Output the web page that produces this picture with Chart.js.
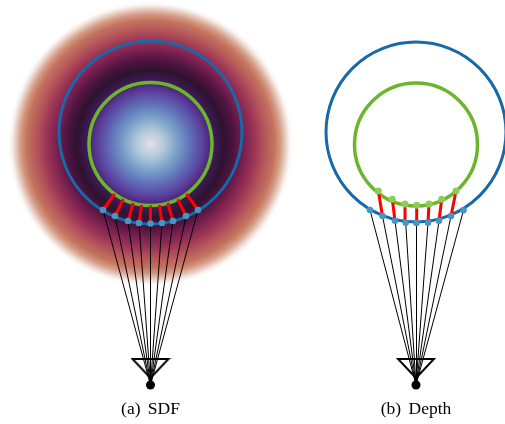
<!DOCTYPE html>
<html>
<head>
<meta charset="utf-8">
<script src="https://cdn.jsdelivr.net/npm/chart.js@4.4.1/dist/chart.umd.min.js"></script>
<style>
  html, body { margin: 0; padding: 0; background: #fff; }
  canvas { display: block; }
</style>
</head>
<body>
<canvas id="fig" width="505" height="424"></canvas>
<script>
// scene (x to the right, y downwards)
var panelNames = ['(a) SDF', '(b) Depth'];
var panelCentres = [150.5, 416];
var captionLine = 414;

var sdfField = [{x: 150.5, y: 144, r: 143}];
var outerSurface = [{x: 150.5, y: 132.5, r: 91.5}, {x: 416, y: 132, r: 90}];
var innerSurface = [{x: 150.5, y: 144, r: 61.5}, {x: 416, y: 144.5, r: 61.5}];
var cameras = [{x: 150.5, y: 385}, {x: 416, y: 385}];

// (a) samples on the outer surface and their closest points on the inner one
var sdfSamples = [
    {x: 103, y: 210}, {x: 115, y: 216}, {x: 128, y: 221}, {x: 139, y: 223}, {x: 150.5, y: 223.5},
    {x: 162, y: 223}, {x: 173, y: 221}, {x: 186, y: 216}, {x: 198, y: 210}
];
var sdfClosest = [
    {x: 114.6, y: 193.9}, {x: 123.3, y: 199.2}, {x: 133.3, y: 203}, {x: 141.6, y: 204.9}, {x: 150.5, y: 205.5},
    {x: 159.4, y: 204.9}, {x: 167.7, y: 203}, {x: 177.7, y: 199.2}, {x: 186.4, y: 193.9}
];

// (b) samples on the outer surface and where the same rays hit the inner one
var depthSamples = [
    {x: 370, y: 210}, {x: 382.5, y: 216}, {x: 395, y: 220.7}, {x: 405.7, y: 222.7}, {x: 416.5, y: 223},
    {x: 428, y: 222.7}, {x: 439, y: 220.7}, {x: 451, y: 216}, {x: 463.5, y: 210.3}
];
var depthHitRays = [1, 2, 3, 4, 5, 6, 7];
var depthHits = [
    {x: 378.3, y: 191}, {x: 392.3, y: 199.3}, {x: 405, y: 204}, {x: 416.7, y: 205.3},
    {x: 429, y: 204}, {x: 441.7, y: 199.3}, {x: 456, y: 191}
];

// twilight-like colour ramp for the distance field
var fieldStops = [
    [0, '#e6e0e8'], [0.098, '#b0c8d8'], [0.189, '#7aa0c8'], [0.28, '#6070b8'],
    [0.378, '#5a3a9a'], [0.448, '#3c1b55'], [0.517, '#2e1230'], [0.587, '#4e1440'],
    [0.657, '#7a2050'], [0.727, '#9a3456'], [0.797, '#b4545a'], [0.867, '#c4745e'],
    [0.909, '#d49a84'], [0.958, '#f0e0d8'], [1, 'rgba(255,255,255,0)']
];

function fieldFill(c) {
    var chart = c.chart;
    if (!chart.chartArea || !c.raw) return 'rgba(0,0,0,0)';
    var px = chart.scales.x.getPixelForValue(c.raw.x);
    var py = chart.scales.y.getPixelForValue(c.raw.y);
    var g = chart.ctx.createRadialGradient(px, py, 0, px, py, c.raw.r);
    fieldStops.forEach(function (s) { g.addColorStop(s[0], s[1]); });
    return g;
}

// camera glyph: open triangle above the centre point
var camIcon = document.createElement('canvas');
camIcon.width = 40;
camIcon.height = 60;
(function () {
    var g = camIcon.getContext('2d');
    g.strokeStyle = '#000';
    g.lineWidth = 2;
    g.beginPath();
    g.moveTo(2, 4);
    g.lineTo(38, 4);
    g.lineTo(20, 23);
    g.closePath();
    g.stroke();
})();

function segment(a, b, color, width, order) {
    return {
        type: 'scatter', showLine: true, data: [a, b],
        borderColor: color, borderWidth: width, borderCapStyle: 'butt',
        pointRadius: 0, order: order, clip: false
    };
}

var datasets = [];
datasets.push({type: 'bubble', data: sdfField, backgroundColor: fieldFill, borderWidth: 0, order: 20, clip: false});

sdfSamples.forEach(function (p) { datasets.push(segment(cameras[0], p, '#000', 1, 10)); });
depthSamples.forEach(function (p) { datasets.push(segment(cameras[1], p, '#000', 1, 10)); });

datasets.push({type: 'bubble', data: outerSurface, backgroundColor: 'rgba(0,0,0,0)',
    borderColor: '#1769aa', borderWidth: 3, order: 8, clip: false});
datasets.push({type: 'bubble', data: innerSurface, backgroundColor: 'rgba(0,0,0,0)',
    borderColor: '#6cb52d', borderWidth: 3.5, order: 7, clip: false});

sdfSamples.forEach(function (p, i) { datasets.push(segment(p, sdfClosest[i], '#ff0000', 3, 5)); });
depthHitRays.forEach(function (k, i) { datasets.push(segment(depthSamples[k], depthHits[i], '#ff0000', 3, 5)); });

datasets.push({type: 'scatter', data: sdfSamples.concat(depthSamples), pointRadius: 3.3,
    backgroundColor: '#4b93c3', borderWidth: 0, order: 3, clip: false});
datasets.push({type: 'scatter', data: depthHits, pointRadius: 3.5,
    backgroundColor: '#8ccd5a', borderWidth: 0, order: 3, clip: false});

datasets.push({type: 'scatter', data: cameras, pointStyle: camIcon, pointRadius: 10, order: 2, clip: false});
datasets.push({type: 'scatter', data: cameras, pointRadius: 4.5,
    backgroundColor: '#000', borderWidth: 0, order: 1, clip: false});

var captions = {
    id: 'captions',
    afterDraw: function (chart) {
        var ctx = chart.ctx, xs = chart.scales.x, ys = chart.scales.y;
        ctx.save();
        ctx.font = '17.5px "Liberation Serif", "Times New Roman", serif';
        ctx.fillStyle = '#000';
        ctx.textAlign = 'center';
        ctx.textBaseline = 'alphabetic';
        if ('wordSpacing' in ctx) ctx.wordSpacing = '3px';
        panelNames.forEach(function (name, i) {
            ctx.fillText(name, xs.getPixelForValue(panelCentres[i]), ys.getPixelForValue(captionLine));
        });
        ctx.restore();
    }
};

new Chart(document.getElementById('fig').getContext('2d'), {
    type: 'scatter',
    data: {datasets: datasets},
    options: {
        responsive: false,
        animation: false,
        events: [],
        layout: {padding: 0, autoPadding: false},
        plugins: {legend: {display: false}, tooltip: {enabled: false}, title: {display: false}},
        scales: {
            x: {type: 'linear', min: 0, max: 505, display: false},
            y: {type: 'linear', min: 0, max: 424, reverse: true, display: false}
        }
    },
    plugins: [captions]
});
</script>
</body>
</html>
